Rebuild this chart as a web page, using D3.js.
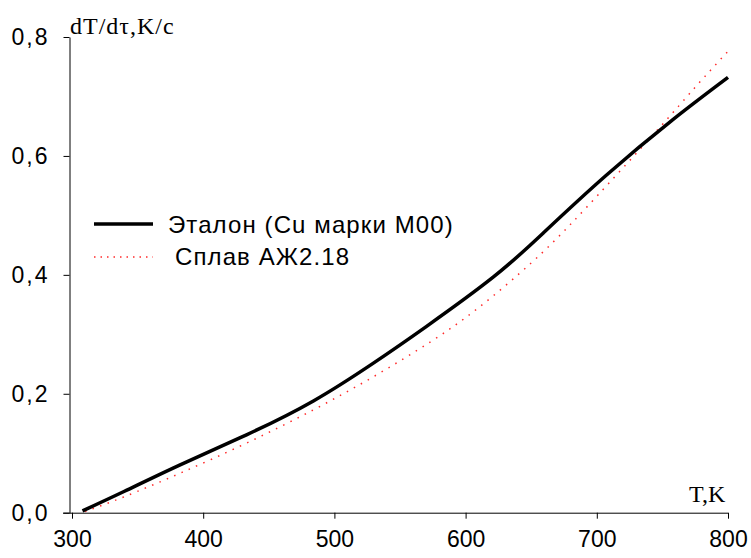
<!DOCTYPE html>
<html>
<head>
<meta charset="utf-8">
<script src="https://cdn.jsdelivr.net/npm/d3@7"></script>
<style>
  body { margin: 0; background: #fff; }
  .tick text { font-family: "Liberation Sans", Arial, sans-serif; font-size: 23px; fill: #000; }
  .axisTitle { font-family: "Liberation Serif", "Times New Roman", serif; font-size: 24px; fill: #000; }
  .legendText { font-family: "Liberation Sans", Arial, sans-serif; font-size: 24px; fill: #000; letter-spacing: 1.1px; }
</style>
</head>
<body>
<div id="chart"></div>
<script>
var svgWidth = 751;
var svgHeight = 558;

// reference curve (Cu M00)
var tEtalon = [308, 340, 382, 433, 484, 530, 570, 621, 660, 707, 758, 800];
var vEtalon = [0.003, 0.036, 0.080, 0.131, 0.188, 0.252, 0.313, 0.396, 0.472, 0.567, 0.661, 0.732];

// alloy curve (АЖ2.18)
var tAlloy = [310, 340, 382, 433, 484, 530, 573, 610, 650, 680, 710, 748, 776, 800];
var vAlloy = [0.002, 0.027, 0.066, 0.117, 0.173, 0.229, 0.287, 0.345, 0.420, 0.485, 0.556, 0.648, 0.718, 0.776];

var xTicks = [300, 400, 500, 600, 700, 800];
var yTicks = [0, 0.2, 0.4, 0.6, 0.8];

var seriesNames = ["Эталон (Cu марки M00)", "Сплав АЖ2.18"];
var yTitle = "dT/dτ,K/c";
var xTitle = "T,K";

var svg = d3.select("#chart")
  .append("svg")
  .attr("width", svgWidth)
  .attr("height", svgHeight);

var xScale = d3.scaleLinear().domain([300, 800]).range([72, 728]);
var yScale = d3.scaleLinear().domain([0, 0.8]).range([512.7, 37]);

var fmt = d => d3.format(".1f")(d).replace(".", ",");

// x axis
var xAxis = svg.append("g")
  .attr("transform", `translate(0, ${yScale(0)})`)
  .call(d3.axisBottom(xScale).tickValues(xTicks).tickSize(6).tickSizeOuter(0).tickPadding(12));
xAxis.select(".domain").attr("d", `M63,0.5H${xScale(800)}`);
xAxis.selectAll(".tick text").attr("font-size", 22);

// y axis
var yAxis = svg.append("g")
  .attr("transform", "translate(69.5, 0)")
  .call(d3.axisLeft(yScale).tickValues(yTicks).tickFormat(fmt).tickSize(6).tickSizeOuter(0).tickPadding(14));
yAxis.selectAll(".tick text").style("letter-spacing", "2px");

svg.selectAll(".domain, .tick line").attr("stroke", "#000").attr("stroke-width", 1);

// axis titles
svg.append("text").attr("class", "axisTitle")
  .attr("x", 70).attr("y", 34)
  .style("letter-spacing", "1px")
  .text(yTitle);
svg.append("text").attr("class", "axisTitle")
  .attr("x", 689).attr("y", 502)
  .text(xTitle);

var line = d3.line()
  .x(d => xScale(d[0]))
  .y(d => yScale(d[1]))
  .curve(d3.curveNatural);

var alloyData = d3.zip(tAlloy, vAlloy);
var etalonData = d3.zip(tEtalon, vEtalon);

svg.append("path")
  .datum(alloyData)
  .attr("d", line)
  .attr("fill", "none")
  .attr("stroke", "#ff2a2a")
  .attr("stroke-width", 1.5)
  .attr("stroke-dasharray", "1.5,6.5");

svg.append("path")
  .datum(etalonData)
  .attr("d", line)
  .attr("fill", "none")
  .attr("stroke", "#000")
  .attr("stroke-width", 3.5)
  .attr("stroke-linejoin", "round");

// legend
var legend = svg.append("g");
legend.append("line")
  .attr("x1", 94).attr("x2", 153).attr("y1", 224).attr("y2", 224)
  .attr("stroke", "#000").attr("stroke-width", 3.5);
legend.append("text").attr("class", "legendText")
  .attr("x", 168).attr("y", 233).text(seriesNames[0]);
legend.append("line")
  .attr("x1", 94).attr("x2", 153).attr("y1", 257).attr("y2", 257)
  .attr("stroke", "#ff2a2a").attr("stroke-width", 1.5)
  .attr("stroke-dasharray", "1.5,5");
legend.append("text").attr("class", "legendText")
  .attr("x", 175).attr("y", 265).text(seriesNames[1]);
</script>
</body>
</html>
